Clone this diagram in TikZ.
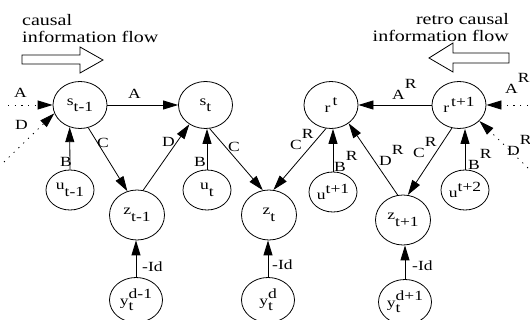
\documentclass[tikz,border=0pt]{standalone}
\usepackage{fontspec}
\setmainfont{Liberation Serif}[FakeStretch=1.25]
\usetikzlibrary{arrows.meta,shapes.geometric}
\newcommand{\ndfont}{\fontsize{14}{16}\selectfont}
\newcommand{\lbfont}{\fontsize{14}{16}\selectfont}
\newcommand{\hdfont}{\fontsize{16}{17}\selectfont}
\newcommand{\lo}[1]{\raisebox{-0.45em}{#1}}
\newcommand{\hi}[1]{\raisebox{0.45em}{#1}}
\newcommand{\supR}{\raisebox{0.8em}{R}}
\newcommand{\obsy}[1]{y\rlap{\raisebox{-0.35em}{t}}\raisebox{0.5em}{#1}}
\begin{document}
\begin{tikzpicture}[x=1pt,y=-1pt,
  every node/.style={inner sep=0pt},
  sstate/.style={ellipse,draw,line width=0.8pt,minimum width=54pt,minimum height=47pt,font=\ndfont},
  ustate/.style={ellipse,draw,line width=0.8pt,minimum width=48pt,minimum height=40pt,font=\ndfont},
  zstate/.style={ellipse,draw,line width=0.8pt,minimum width=55pt,minimum height=50pt,font=\ndfont},
  ystate/.style={ellipse,draw,line width=0.8pt,minimum width=53pt,minimum height=45pt,font=\ndfont},
  link/.style={line width=0.8pt,-{Triangle[length=15pt,width=9pt]}},
  feed/.style={link,dash pattern=on 1.2pt off 5.5pt},
  lab/.style={anchor=base west,font=\lbfont},
  hdl/.style={anchor=base west,font=\hdfont},
  hdr/.style={anchor=base east,font=\hdfont},
  flow/.style={draw,line width=0.8pt,fill=white,line join=miter}
]
\useasboundingbox (0,0) rectangle (530,320);
\clip (0,0) rectangle (530,320);

% headings and the two direction arrows
\node[hdl] (c1) at (22,26) {causal};
\node[hdl] (c2) at (22,43) {information flow};
\node[hdr] (rc1) at (509,25) {retro causal};
\node[hdr] (rc2) at (509,42) {information flow};
\draw[flow] (22,55) -- (80,55) -- (80,47) -- (103,60) -- (80,73) -- (80,64) -- (22,64) -- cycle;
\draw[flow] (509,53) -- (453,53) -- (453,43) -- (429,58) -- (453,72) -- (453,63) -- (509,63) -- cycle;

% hidden states
\node[sstate] (s1) at (80,105) {s\lo{t-1}};
\node[sstate] (s2) at (205.5,105) {s\lo{t}};
\node[sstate] (r1) at (331,105) {r\hspace{0.15em}\hi{t}};
\node[sstate] (r2) at (459,105) {r\hspace{0.15em}\hi{t+1}};

% inputs
\node[ustate] (u1) at (70,190) {u\lo{t-1}};
\node[ustate] (u2) at (207,190) {u\lo{t}};
\node[ustate] (u3) at (333,192) {u\hi{t+1}};
\node[ustate] (u4) at (465,190) {u\hi{t+2}};

% combined states
\node[zstate] (z1) at (137,215) {z\lo{t-1}};
\node[zstate] (z2) at (269,215) {z\lo{t}};
\node[zstate] (z3) at (403,220) {z\lo{t+1}};

% observations
\node[ystate] (y1) at (136,300) {\obsy{d-1}};
\node[ystate] (y2) at (268,300) {\obsy{d}};
\node[ystate] (y3) at (405,302) {\obsy{d+1}};

% free ends of the incoming dotted links
\coordinate (inA) at (8,105);
\coordinate (inD) at (4,162);
\coordinate (inAR) at (528,105);
\coordinate (inDR) at (528,168);

% causal links
\draw[feed] (inA) -- (s1.west);
\draw[feed] (inD) -- (s1.198);
\draw[link] (s1.east) -- (s2.west);
\draw[link] (u1.north) -- (s1.245);
\draw[link] (s1.290) -- (z1.112);
\draw[link] (z1.76) -- (s2.230);
\draw[link] (u2.north) -- (u2.north |- s2.south);
\draw[link] (s2.280) -- (z2.104);

% retro causal links
\draw[feed] (inAR) -- (r2.east);
\draw[feed] (inDR) -- (r2.322);
\draw[link] (r2.west) -- (r1.east);
\draw[link] (u4.north) -- (u4.north |- r2.south);
\draw[link] (r2.253) -- (z3.79);
\draw[link] (z3.102) -- (r1.314);
\draw[link] (u3.north) -- (u3.north |- r1.south);
\draw[link] (r1.258) -- (z2.80);

% observation links
\draw[link] (y1.north) -- (y1.north |- z1.south);
\draw[link] (y2.north) -- (y2.north |- z2.south);
\draw[link] (y3.north) -- (y3.north |- z3.south);

% link labels
\node[lab] (lA0) at (14,98) {A};
\node[lab] (lD0) at (15,130) {D};
\node[lab] (lA1) at (128,99) {A};
\node[lab] (lB1) at (60,167) {B};
\node[lab] (lC1) at (97,148) {C};
\node[lab] (lD1) at (162,147) {D};
\node[lab] (lB2) at (194,167) {B};
\node[lab] (lC2) at (228,152) {C};
\node[lab] (lCR1) at (290,150) {C\supR};
\node[lab] (lBR1) at (334,172) {B\supR};
\node[lab] (lDR1) at (379,166) {D\supR};
\node[lab] (lCR2) at (413,158) {C\supR};
\node[lab] (lBR2) at (468,170) {B\supR};
\node[lab] (lAR1) at (392,100) {A\supR};
\node[lab] (lAR0) at (505,94) {A\supR};
\node[lab] (lDR0) at (507,156) {D\supR};
\node[lab] (lI1) at (142,272) {-Id};
\node[lab] (lI2) at (272,270) {-Id};
\node[lab] (lI3) at (412,271) {-Id};
\end{tikzpicture}
\end{document}
